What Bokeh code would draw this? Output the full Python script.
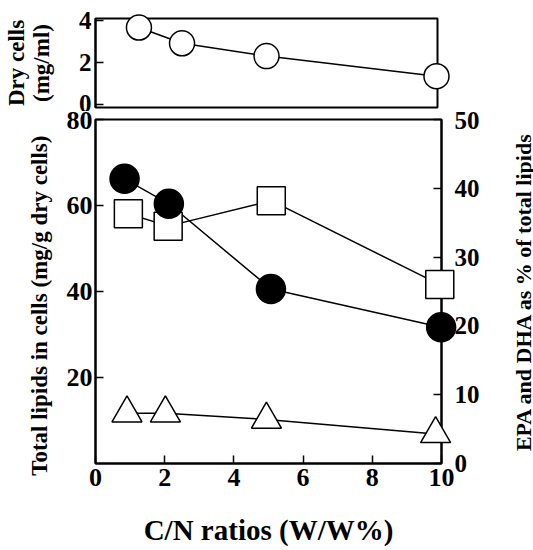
import math
from bokeh.plotting import figure
from bokeh.layouts import column
from bokeh.models import Range1d, LinearAxis, FixedTicker
from bokeh.core.properties import value
from bokeh.embed import file_html
from bokeh.resources import INLINE

# ---- data ----
dry_x = [1.27, 2.53, 5.0, 9.97]
dry_cells = [3.65, 2.90, 2.29, 1.33]

lip_x = [0.84, 2.12, 5.07, 9.99]
total_lipids = [66.2, 60.4, 40.6, 31.7]          # mg/g dry cells (left axis)

sq_x = [0.95, 2.10, 5.08, 9.95]
dha_pct = [36.3, 34.5, 38.2, 26.0]               # % of total lipids (right axis)

tri_x = [0.91, 2.02, 4.94, 9.83]
epa_pct = [7.3, 7.3, 6.4, 4.3]                   # % of total lipids (right axis)

x_ticks = [0, 2, 4, 6, 8, 10]
left_ticks = [20, 40, 60, 80]
right_ticks = [0, 10, 20, 30, 40, 50]
top_ticks = [0, 2, 4]

x_title = "C/N ratios (W/W%)"
left_title = "Total lipids in cells (mg/g dry cells)"
right_title = "EPA and DHA as % of total lipids"
top_title = "Dry cells\n(mg/ml)"

FONT = "Liberation Serif"


def style_axis(ax, size="26px"):
    ax.major_label_text_font = FONT
    ax.major_label_text_font_style = "bold"
    ax.major_label_text_font_size = size
    ax.major_label_text_color = "black"
    ax.axis_label_text_font = FONT
    ax.axis_label_text_font_style = "bold"
    ax.axis_label_text_color = "black"
    ax.axis_line_color = "black"
    ax.axis_line_width = 2
    ax.major_tick_line_color = "black"
    ax.major_tick_line_width = 1.5
    ax.major_tick_in = 8
    ax.major_tick_out = 0
    ax.minor_tick_line_color = None


# ---- top panel: dry cells ----
top = figure(output_backend="svg", toolbar_location=None,
             frame_width=342, frame_height=89,
             min_border_left=91, min_border_right=100,
             min_border_top=18, min_border_bottom=4,
             x_range=Range1d(0, 10), y_range=Range1d(-0.16, 4.08))
top.xaxis.visible = False
top.grid.visible = False
top.outline_line_color = "black"
top.outline_line_width = 2
style_axis(top.yaxis[0], "25px")
top.yaxis[0].ticker = FixedTicker(ticks=top_ticks)
top.yaxis[0].major_label_standoff = 4
top.yaxis[0].axis_label = top_title
top.yaxis[0].axis_label_text_font_size = "23px"
top.yaxis[0].axis_label_text_line_height = 1.0
top.yaxis[0].axis_label_standoff = 22
top.line(dry_x, dry_cells, line_color="black", line_width=1.5)
top.scatter(dry_x, dry_cells, marker="circle", size=25, fill_color="white",
            line_color="black", line_width=1.5, level="overlay")

# ---- main panel ----
p = figure(output_backend="svg", toolbar_location=None,
           frame_width=346, frame_height=344,
           min_border_left=92, min_border_right=95,
           min_border_top=8, min_border_bottom=80,
           x_range=Range1d(0, 10), y_range=Range1d(0, 80))
p.extra_y_ranges = {"pct": Range1d(0, 50)}
p.grid.visible = False
p.outline_line_color = "black"
p.outline_line_width = 2

style_axis(p.xaxis[0])
p.xaxis[0].ticker = FixedTicker(ticks=x_ticks)
p.xaxis[0].major_label_standoff = 5
p.xaxis[0].axis_label = x_title
p.xaxis[0].axis_label_text_font_size = "29px"
p.xaxis[0].axis_label_standoff = 25

style_axis(p.yaxis[0])
p.yaxis[0].ticker = FixedTicker(ticks=left_ticks)
p.yaxis[0].major_label_standoff = 3

rax = LinearAxis(y_range_name="pct")
style_axis(rax, "25px")
rax.ticker = FixedTicker(ticks=right_ticks)
rax.major_label_standoff = 13
p.add_layout(rax, "right")

# vertical axis titles (both read bottom to top, as in the original)
p.text(x=[-1.63], y=[36.7], text=[left_title],
       angle=math.pi / 2, text_align="center", text_baseline="middle",
       text_font=value(FONT), text_font_style="bold",
       text_font_size=value("23px"), text_color="black", level="overlay")
p.text(x=[12.36], y=[40.0], text=[right_title],
       angle=math.pi / 2, text_align="center", text_baseline="middle",
       text_font=value(FONT), text_font_style="bold",
       text_font_size=value("22px"), text_color="black", level="overlay")

p.line(sq_x, dha_pct, y_range_name="pct", line_color="black", line_width=1.5)
p.line(tri_x, epa_pct, y_range_name="pct", line_color="black", line_width=1.5)
p.line(lip_x, total_lipids, line_color="black", line_width=1.5)

p.scatter(sq_x, dha_pct, y_range_name="pct", marker="square", size=28,
          fill_color="white", line_color="black", line_width=1.5, level="overlay")
p.scatter(tri_x, epa_pct, y_range_name="pct", marker="triangle", size=30,
          fill_color="white", line_color="black", line_width=1.5, level="overlay")
p.scatter(lip_x, total_lipids, marker="circle", size=29,
          fill_color="black", line_color="black", line_width=1.5, level="overlay")

layout = column(top, p, spacing=0)
open("out.html", "w").write(file_html(layout, INLINE))
